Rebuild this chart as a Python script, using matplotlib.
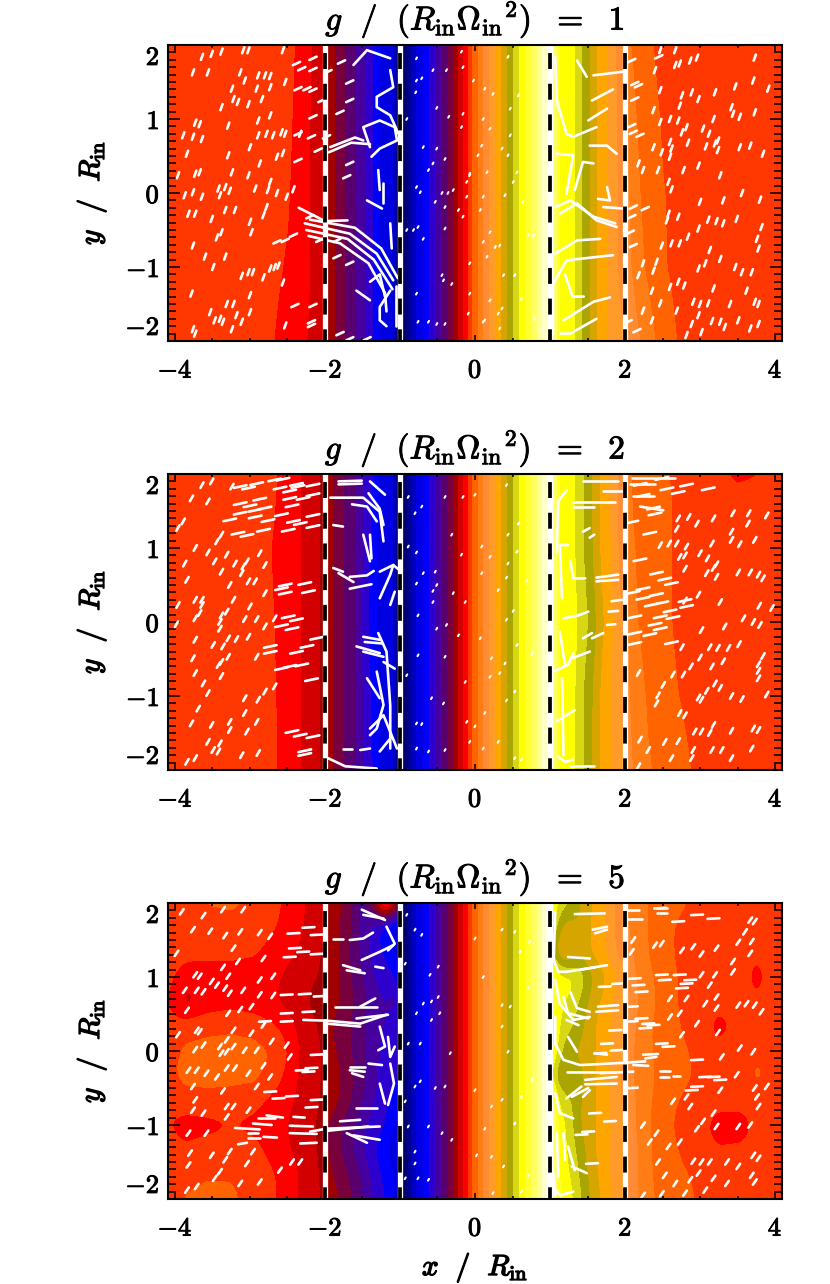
import numpy as np
import matplotlib
matplotlib.use('Agg')
import matplotlib.pyplot as plt
import matplotlib.patheffects as pe
from matplotlib.colors import ListedColormap
from matplotlib.collections import LineCollection
from matplotlib.ticker import MultipleLocator

plt.rcParams['mathtext.fontset'] = 'cm'
plt.rcParams['lines.scale_dashes'] = False

g_values = [1, 2, 5]

band_colors = [(0,0,110),(0,0,150),(0,0,190),(0,0,225),(0,0,255),(45,0,205),(70,0,160),(90,0,110),(120,0,60),
               (160,0,0),(210,0,0),(255,0,0),(255,55,0),(255,100,0),(255,125,20),(255,140,50),(255,155,40),
               (255,165,0),(215,165,0),(170,165,0),(215,215,20),(255,255,0),(255,255,50),(255,255,100),
               (255,255,150),(255,255,200),(255,255,240)]

# inner channel, common to the three panels: x where each band starts
mid_x = [-1.0,-0.9,-0.84,-0.78,-0.689,-0.6,-0.533,-0.444,-0.356,-0.289,-0.222,-0.147,-0.089,-0.036,0.044,0.111,
         0.191,0.267,0.347,0.436,0.511,0.6,0.667,0.756,0.83,0.9,0.96,1.0]
mid_f = [0,1,2,3,4,5,6,7,8,9,10,11,12,13,14,15,16,17,18,19,20,21,22,23,24,25,26,26.99]

# ---- field tables (level value at column x, row y)
p1_left_x = [-4.09,-2.75,-2.5,-2.2,-2,-1.87,-1.74,-1.6,-1.47,-1.37,-1.28,-1.1,-1.03,-1.0]
p1_left_y = [2,1,0,-1,-2]
p1_left_f = [
 [12.5,12.5,12.4,11.1,10,9,8,7,6,5,4,3,1.5,0.5],
 [12.5,12.5,12.25,11,10,9,8,7,6,5,4,3,1.5,0.5],
 [12.5,12.4,12.1,11,10,9,8,7,6,5,4,3,1.5,0.5],
 [12.5,12.3,11.9,11,10,9,8,7,6,5,4,3,1.5,0.5],
 [12.5,12.15,11.6,10.9,10,9,8,7,6,5,4,3,1.5,0.5]]
p1_right_x = [1,1.05,1.12,1.33,1.42,1.53,1.62,1.76,1.9,2.05,2.2,2.5,2.8,4.09]
p1_right_y = [2,1,0,-1,-2]
p1_right_f = [
 [26,24,22,21,20,19,18,17,15.8,14.1,13.5,12.65,12.5,12.5],
 [26,24,22,21,20,19,18,17,15.9,14.6,13.7,12.9,12.5,12.5],
 [26,24,22,21,20,19,18,17,16,15,14,13.05,12.6,12.5],
 [26,24,22,21,20,19,18,17,16,15.2,14.2,13.1,12.6,12.5],
 [26,24,22,21,20,19,18,17,16.3,15.8,15,13.5,12.7,12.5]]
p2_left_x = [-4.09,-3,-2.72,-2.64,-2.33,-2.07,-1.9,-1.75,-1.6,-1.48,-1.37,-1.28,-1.1,-1.03,-1]
p2_left_y = [2,1,0,-1,-2]
p2_left_f = [
 [12.5,12.5,12.3,12,11,10,9,8,7,6,5,4,3,1.5,.5],
 [12.5,12.5,12,11.8,11,10,9,8,7,5.8,4.7,3.8,3,1.5,.5],
 [12.5,12.5,12.1,11.9,11,10,9,8,7,5.5,4.5,3.7,3,1.5,.5],
 [12.5,12.5,12.2,11.95,11,10,9,8,7,5.8,4.8,3.8,3,1.5,.5],
 [12.5,12.5,12.3,12,11,10,9,8,7,6,5,4,3,1.5,.5]]
p2_right_x = [1,1.05,1.12,1.33,1.44,1.56,1.66,1.8,1.95,2.1,2.3,2.65,2.9,3.3,3.5,3.75,4.09]
p2_right_y = [2,1.75,1,0,-1,-2]
p2_right_f = [
 [26,24,22,21,20,19,18,17,15.5,13.8,13.4,12.9,12.6,12.3,11.5,11.9,12.5],
 [26,24,22,21,20,19,18,17,15.5,13.9,13.5,12.95,12.6,12.5,12.5,12.5,12.5],
 [26,24,22,21,20,19,18,17,15.6,14.1,13.5,12.95,12.6,12.5,12.5,12.5,12.5],
 [26,24,22,21.2,20.5,19.5,18.4,17.3,16,14.2,13.6,12.95,12.6,12.5,12.5,12.5,12.5],
 [26,24,22,21,20,19,18,17,16,14.6,13.9,13.1,12.7,12.5,12.5,12.5,12.5],
 [26,24,22,21,20,19,18,17,16.2,15,14.1,13.5,12.95,12.6,12.5,12.5,12.5]]
p3_left_x = [-4.09,-3.85,-3.55,-3.25,-2.95,-2.65,-2.35,-2.1,-1.9,-1.7,-1.5,-1.35,-1.2,-1.08,-1.0]
p3_left_y = [2,1.67,1.33,1,.67,.33,0,-.33,-.67,-1,-1.33,-1.67,-2]
p3_left_f = [
 [12.5,12.6,13.1,13.2,12.8,12.2,11.3,10.4,9.6,8.5,6.5,9,13.3,11,8],
 [12.5,12.5,12.5,12.6,12.5,12,11.2,10.3,9.6,8.3,6.8,5.5,4,3,3],
 [12.5,12.3,12.3,12.2,12.1,11.6,10.9,10.1,9.6,8.2,6.5,5.6,4.8,4,3],
 [12.2,11.5,11.4,11.6,11.5,11.1,10.4,10,9.5,8.3,7,6,5.5,5,4],
 [12,10.5,11.3,11.5,11.3,11,10.3,9.6,9.4,8.5,7.3,6.3,6,6.5,5],
 [12.3,12.6,12.8,12.9,12.7,12,10.8,10,8.9,8.1,7.2,6.5,6,5.3,5],
 [12.6,13.2,13.3,13.3,13.3,13,11,10.2,9.2,8.3,7.1,6.3,5.5,5,5],
 [12.8,13.3,13.3,13.3,13.3,12.4,10.9,10.1,9.5,8.5,7.3,6.3,5.5,5.1,5],
 [12.3,12.6,12.7,12.6,12.3,11.6,10.8,10.1,9.5,8.3,7,6,5.2,4.8,4.5],
 [12,11.5,11.6,11.9,11.7,11.3,10.6,9.9,8.5,7.5,6.3,5.5,5,4,3.5],
 [12.4,12.2,12.5,12.6,12.3,11.5,10.7,10,8.5,7.5,6,5,4.3,3.2,2.5],
 [12.5,12.7,12.9,12.9,12.6,12,11,10.1,9,8,6.8,5.6,4.6,4,3],
 [12.5,13.1,13.3,13.2,12.6,12,10.9,10.1,9.4,8.4,7,5.9,5,4,3]]
p3_right_x = [1.0,1.1,1.2,1.3,1.4,1.5,1.6,1.75,1.9,2.1,2.3,2.55,2.85,3.0,3.25,3.55,3.75,4.09]
p3_right_y = p3_left_y
p3_right_f = [
 [23,21,20.3,20,19,18.3,17.7,16.9,15.6,14.6,14,13.4,13,12.6,12.5,12.5,12.4,12.5],
 [22,19.5,18.5,18.5,18.8,18.3,17.6,16.9,15.6,14.8,14,13.2,12.6,12.5,12.5,12.5,12.4,12.5],
 [20,18.5,17.5,18,18.6,18.2,17.6,16.9,15.8,15,14,13.2,12.6,12.5,12.5,12.3,12.2,12.5],
 [24,21.6,21.5,21.3,20.8,19.5,19,18,17,15.2,14.3,13.3,12.7,12.6,12.5,12.3,11.7,12.5],
 [24,21.4,21,20.6,19.8,19,18.3,17.5,16.5,15.3,14.5,13.3,12.7,12.5,12.4,12.4,12.2,12.5],
 [24,21.2,20.5,20,19.3,18.6,18,17.3,16.5,15.2,14.2,13.3,12.8,12.4,11.6,12.3,12.5,12.5],
 [23,20.8,19.5,19,18.8,18.5,18,17.4,16.6,15,14.2,13.4,13,12.6,12.4,12.5,12.8,12.5],
 [21,19.3,19,19.2,19.3,18.7,18,17.2,16.2,15,14.2,13.7,13.1,12.8,12.5,12.5,13.2,12.7],
 [25,21,20.3,20,19,18.6,18,17.2,16.2,15.2,14.2,13.3,12.7,12.5,12.4,12.4,12.5,12.5],
 [26,22,21,20,19,18.5,18,17.3,16.5,15.2,14.1,13.2,12.5,12.3,11.5,11.5,12.2,12.5],
 [26,22,21.2,20.3,19.5,18.7,18,17.2,16.5,15.4,14.2,13.3,12.7,12.4,12.1,12.2,12.4,12.5],
 [26,22,21.3,20.8,19.8,19,18.2,17.2,16.5,15.4,14.2,13.4,13,12.7,12.5,12.5,12.5,12.5],
 [26,22.5,21.8,21,20.2,19.2,18.5,17.4,16.5,15.4,14.3,13.5,13.2,12.8,12.5,12.5,12.5,12.5]]

# ---- white tracer marks (x, y)
p1_specks = [(-.78,1.82),(-.56,1.66),(-.38,1.66),(-.18,1.91),(-.78,1.52),(-.71,1.55),(-.79,1.36),(-.91,1),(-.51,1.15),(-.35,1.03),(-.16,1.07),(.11,1),(-.18,.89),(-.69,.62),(-.51,.6),(-.4,.46),(-.56,.4),(-.62,.31),(-.07,.24),(-.11,.15),(-.78,.08),(-.73,.01),(-.44,0),(-.36,0),(-.29,.04),(-.11,-.05),(.11,-.05),(-.53,-.12),(-.4,-.19),(-.22,-.23),(-.16,-.32),(-.91,-.5),(-.82,-.5),(-.76,-.46),(-.4,-.48),(-.69,-.62),(.11,-.66),(.16,-.86),(-.44,-1.11),(-.42,-1.18),(-.31,-1.23),(-.07,-.95),(-.78,-1.36),(-.51,-1.77),(-.62,-1.74),(-.76,-1.74),(-.4,-1.77),(-.09,-1.63),(.13,-1.72),(.2,-1.45),
 (-.16,1.7),(-.02,1.52),(.13,1.41),(.24,1.34),(.44,1.84),(.58,1.32),(.47,1.14),(.2,.87),(.47,.78),(.09,.64),(.36,.6),(.44,.51),(.04,.51),(.56,.28),(-.07,.26),(.16,.28),(.51,.15),(.4,-.03),(.64,-.12),(.07,-.23),(.2,-.53),(.71,-.57),(.78,-.57),(.27,-.73),(.33,-.71),(.38,-1.11),(.53,-1.11),(-.07,-1.36),(.36,-1.56),(.31,-1.63),(.11,-1.74),(.62,-1.43),(.8,-1.7),(.87,-1.86),(.33,-1.83)]
p1_steep = [(-3.51,1.88),(-3.38,1.91),(-3.09,1.93),(-3.02,1.93),(-2.56,1.93),(-3.64,1.84),(-3.76,1.63),(-3.56,1.63),(-3.13,1.63),(-2.89,1.59),(-2.8,1.59),(-2.73,1.58),(-3.07,1.52),(-3.24,1.41),(-2.91,1.41),(-2.73,1.43),(-2.53,1.5),(-3.22,1.27),(-3.16,1.23),(-3.02,1.2),(-2.84,1.27),(-2.73,1.05),(-2.89,.98),(-3.38,1.16),(-3.67,.93),(-3.73,.95),(-3.89,.78),(-3.76,.76),(-3.64,.73),(-3.29,.91),(-2.89,.78),(-2.78,.8),(-2.69,.78),(-2.58,.82),(-2.53,.8),(-2.33,.8),(-3.0,.62),(-3.84,.53),(-3.29,.51),(-2.87,.4),(-2.64,.49),(-2.56,.54),(-3.67,.28),(-3.73,.26),(-3.96,.24),(-3.02,.24),(-3.24,.28),(-2.73,.15),(-2.93,.06),(-3.42,.06),(-3.33,.08),(-3.27,.03),(-3.4,-.03),(-3.76,.01),(-3.87,-.03),(-3.64,-.05),(-2.76,.04),(-2.64,0),(-2.51,-.05),(-2.42,.05),(-2.78,-.19),(-3.82,-.28),(-3.73,-.28),(-3.51,-.35),(-3.33,-.23),(-3.2,-.23),(-3,-.39),(-2.82,-.3),(-3.38,-.53),(-3.44,-.6),(-2.98,-.53),(-3.76,-.71),(-3.6,-.86),(-3.33,-.86),(-3.49,-1.0),(-3.11,-1.12),(-3.02,-1.07),(-2.96,-1.07),(-2.82,-1.14),(-2.73,-1.02),(-2.67,-1),(-2.62,-.98),(-2.56,-1.21),(-3.78,-1.36),(-3,-1.38),(-3.22,-1.5),(-3.31,-1.5),(-3.53,-1.61),(-3.4,-1.7),(-3.47,-1.72),(-3.36,-1.74),(-3.18,-1.65),(-3,-1.61),(-3.76,-1.84),(-3.73,-1.9),(-3.24,-1.84),(-3.11,-1.74),(-2.53,-1.79),
 (2.47,1.93),(2.67,1.93),(2.87,1.79),(2.96,1.83),(2.67,1.73),(2.73,1.75),(3.73,1.83),(3.71,1.52),(3.47,1.44),(3.91,1.41),(3.2,1.36),(2.89,1.36),(2.76,1.32),(2.47,1.39),(2.4,1.66),(2.73,1.18),(2.98,1.27),(2.38,1.12),(3.42,1.16),(3.44,1.07),(3.53,1.03),(3.73,1.09),(3.18,1),(2.6,1),(2.71,.98),(2.47,.96),(2.82,.89),(2.76,.82),(3.04,.87),(3.12,.8),(3.24,.71),(3.2,.67),(2.6,.69),(2.84,.68),(3.08,.63),(3.24,.58),(3.53,.62),(3.67,.64),(3.84,.53),(2.38,.62),(2.62,.6),(2.49,.55),(2.6,.49),(2.98,.37),(3.27,.24),(2.78,.31),(2.44,.31),(2.24,.31),(2.18,.4),(2.58,.15),(2.62,.05),(3.56,0),(3.31,-.1),(3.8,-.09),(3,-.12),(2.58,-.28),(2.71,-.32),(2.56,-.37),(3.11,-.36),(3.22,-.38),(3.31,-.41),(3.49,-.35),(2.98,-.48),(2.84,-.59),(3.82,-.46),(3.76,-.62),(3.78,-.75),(2.73,-.68),(2.62,-.68),(2.49,-.71),(3.13,-.77),(3.27,-.89),(3.07,-.95),(2.98,-1.02),(3.47,-1),(3.56,-1.07),(3.69,-1.07),(2.38,-1.05),(2.24,-.95),(2.42,-.93),(2.18,-1.11),(2.36,-1.32),(2.6,-1.27),(2.71,-1.2),(2.79,-1.25),(3.18,-1.29),(3.62,-1.32),(3.73,-1.47),(3.78,-1.5),(2.91,-1.47),(3,-1.5),(3.11,-1.49),(3.4,-1.5),(2.69,-1.59),(2.47,-1.49),(2.24,-1.59),(2.36,-1.72),(2.98,-1.65),(2.89,-1.77),(3.16,-1.73),(3.27,-1.74),(3.33,-1.81),(3.51,-1.72),(3.67,-1.83),(3.78,-1.77),(3.02,-1.88),(2.82,-1.92)]
p1_flat = [(-2.38,1.75),(-2.16,1.82),(-2.31,1.68),(-2.16,1.67),(-1.96,1.64),(-1.78,1.77),(-2.36,1.41),(-2.24,1.41),(-2.16,1.39),(-2.04,1.25),(-1.8,1.09),(-1.67,1.25),(-1.67,1.5),(-2.16,1.03),(-2.36,.8),(-2.18,.76),(-1.98,.76),(-2.36,.44),(-2.09,.58),(-1.71,.22),(-1.67,.4),(-2.2,-.32),(-2.64,-.66),(-2.53,-.64),(-2.42,-.57),(-1.84,-.86),(-1.67,-.95),(-1.84,-.64),(-2.07,-.64),(-2.16,-1.52),(-2.4,-1.52),(-2.18,-1.79),(-2.18,-1.74),(-1.8,-1.9),(-1.44,-1.97),(-1.67,-1.97),
 (2.09,1.79),(2.45,1.84),(2.13,1.48),(2.18,1.45),(2.13,1.27),(2.09,.91),(2.11,.82),(2.2,.78),(2.27,-.21),(2.11,-.19),(2.09,-.32),(2.07,-.53),(2.11,-.71),(2.04,-1.74),(2.16,-1.86)]
p1_streams = [
 [(-2.27,-.41),(-1.67,-.55),(-1.31,-.82),(-1.09,-1.18)],[(-2.25,-.5),(-1.7,-.62),(-1.35,-.9),(-1.1,-1.3)],[(-2.2,-.36),(-1.6,-.47),(-1.25,-.75),(-1.03,-1.15)],[(-2.22,-.58),(-1.8,-.68),(-1.42,-.95),(-1.2,-1.35),(-1.18,-1.6)],[(-2.35,-.2),(-2.0,-.38),(-1.7,-.37)],
 [(-1.62,1.73),(-1.44,1.93),(-1.13,1.82)],[(-1.13,1.66),(-1.09,1.43),(-1.31,1.3),(-1.31,1.16),(-1.13,1.05),(-1.02,.8)],[(-1.4,.62),(-1.49,.89),(-1.27,.98),(-1.07,.89),(-1.04,.71),(-1.27,.6),(-1.38,.49)],[(-1.93,.62),(-1.6,.75),(-1.49,.71)],[(-1.95,.55),(-1.65,.68),(-1.4,.66)],
 [(-1.29,.31),(-1.27,.04)],[(-1.22,.13),(-1.22,-.14)],[(-1.44,-.1),(-1.24,-.21)],[(-1.13,-.41),(-1.11,-.75)],[(-1.58,-1.32),(-1.4,-1.45)],[(-1.13,-1.32),(-1.27,-1.54),(-1.27,-1.72),(-1.18,-1.8)],[(-1.4,-1.2),(-1.27,-1.1),(-1.2,-1.4)],[(-1.05,-1.25),(-1.05,-1.8)],
 [(1.07,1.84),(1.09,1.25),(1.22,.8),(1.31,.76)],[(1.58,1.59),(1.98,1.64)],[(1.31,.76),(1.62,.89)],[(1.56,1.25),(1.84,1.4)],[(1.51,.98),(1.76,1.14)],[(1.53,.64),(1.76,.64),(1.89,.53)],[(1.09,.53),(1.31,.51),(1.22,-.01)],[(1.33,.04),(1.44,.42),(1.58,.4)],
 [(1.07,-.19),(1.27,-.1),(1.58,-.32),(1.87,-.41)],[(1.13,-.28),(1.36,-.14),(1.62,-.37),(1.89,-.46)],[(1.07,-.82),(1.36,-.64),(1.67,-.62)],[(1.04,-1.9),(1.04,-1.23),(1.22,-.91),(1.84,-.84)],[(1.13,-1.9),(1.27,-1.9),(1.62,-1.7)],[(1.18,-1.72),(1.58,-1.47),(1.8,-1.41)],[(1.36,1.79),(1.49,1.57)],[(1.71,-.19),(1.98,-.21)],[(1.64,-.08),(1.8,-.1),(1.76,.08)],[(1.2,-1.1),(1.3,-1.4),(1.45,-1.4)]]

p2_specks = [(-.89,1.69),(-.4,1.69),(-.71,1.56),(-.16,1.69),(-.8,1.47),(-.31,1.18),(-.89,1.02),(-.78,.94),(-.18,.91),(-.69,.66),(-.53,.68),(-.51,.5),(-.78,.52),(-.56,.42),(-.29,.39),(-.13,.27),(-.56,.27),(-.51,-.09),(-.38,-.04),(-.22,-.18),(-.76,.09),(-.76,-.45),(-.4,-.47),(-.91,-.72),(-.13,-.81),(-.42,-1.1),(-.58,-1.03),(-.78,-1.37),(-.71,-1.38),(-.11,-1.35),(-.78,-1.71),(-.62,-1.75),(-.4,-1.73),(-.07,-1.62),
 (0,1.72),(.42,1.85),(.58,1.33),(.44,1.18),(.09,1.02),(.56,.95),(.2,.88),(.44,.79),(.09,.66),(.42,.6),(.69,.56),(.31,.43),(.07,-.22),(.51,.15),(.42,.03),(.56,-.31),(.22,-.49),(.4,-.56),(.76,-.43),(.2,-.74),(.33,-.69),(.53,-.94),(.42,-1.06),(.13,-1.23),(0,-1.41),(.31,-1.62),(.11,-1.71),(.53,-1.84),(.62,-1.86)]
p2_steep = [(-3.78,1.67),(-3.56,1.63),(-3.24,1.83),(-3.64,1.85),(-3.51,1.9),(-3.89,1.36),(-3.96,1.27),(-3.38,1.18),(-3.44,1.09),(-3.73,1),(-3.56,.94),(-3.31,.91),(-2.87,.93),(-3.04,.82),(-3.2,.79),(-3.47,.82),(-3.87,.79),(-3.09,.75),(-2.8,.77),(-3.11,.66),(-3.38,.68),(-3.84,.57),(-3.02,.55),(-2.93,.55),(-3.27,.5),(-2.8,.39),(-3.73,.3),(-3.64,.3),(-3.22,.3),(-3.96,.23),(-3,.21),(-3.64,.23),(-3.67,.12),(-3.31,.14),(-3.38,.09),(-3.4,0),(-3.73,.05),(-3.07,.04),(-2.91,.04),(-2.67,.05),(-3.98,-.03),(-2.8,-.06),(-3.4,-.09),(-3.73,-.24),(-3.29,-.22),(-3.18,-.23),(-3.02,-.2),(-3.49,-.31),(-3.36,-.33),(-2.91,-.47),(-3.29,-.47),(-3.38,-.54),(-3.76,-.49),(-3.42,-.58),(-3.73,-.69),(-3.38,-.73),(-3.62,-.83),(-2.8,-.94),(-2.67,-.87),(-3.56,-.96),(-3.07,-1.03),(-2.89,-1.05),(-3.69,-1.17),(-3.07,-1.23),(-2.91,-1.35),(-3.78,-1.37),(-3.51,-1.39),(-3.27,-1.35),(-3.04,-1.48),(-3.56,-1.62),(-3.49,-1.73),(-3.42,-1.75),(-3.4,-1.64),(-3.27,-1.46),(-2.89,-1.77),(-3.11,-1.8),(-3.73,-1.84),(-3.84,-1.89),
 (2.71,1.4),(2.85,1.42),(2.96,1.33),(3.18,1.4),(3.44,1.47),(3.65,1.47),(3.89,1.44),(3.64,1.33),(2.69,1.26),(3.42,1.22),(3.42,1.11),(3.53,1.05),(3.73,1.11),(3.16,1.06),(2.82,1.02),(2.69,1.06),(2.59,1.06),(2.47,1.04),(2.73,.88),(3,.93),(3.1,.86),(3.22,.78),(2.8,.9),(3.18,.73),(3.09,.66),(2.8,.72),(3.51,.67),(3.67,.67),(3.78,.64),(3.84,.59),(3.22,.61),(3.27,.27),(2.98,.37),(2.8,.29),(3.79,.22),(3.96,.19),(3.58,.05),(3.71,0),(3.8,-.04),(3.33,-.06),(3.02,-.11),(3.52,-.3),(3.38,-.35),(3.24,-.35),(3.13,-.34),(2.76,-.34),(3.78,-.57),(3.84,-.46),(3.31,-.53),(3.16,-.6),(3,-.48),(2.88,-.6),(2.78,-.71),(3.78,-.66),(3.78,-.76),(2.64,-.71),(3.2,-.83),(3.27,-.89),(2.98,-1.02),(3.02,-1.05),(3.09,-.93),(3.42,-1),(3.56,-1.04),(3.89,-.98),(2.42,-1.1),(2.51,-.85),(2.18,-.69),(2.44,-.99),(2.73,-1.23),(2.8,-1.26),(3.18,-1.39),(2.93,-1.48),(3.02,-1.48),(3.13,-1.5),(3.42,-1.47),(3.71,-1.44),(3.78,-1.46),(2.2,-1.59),(2.71,-1.61),(2.31,-1.73),(2.53,-1.62),(2.91,-1.73),(3.16,-1.73),(3.29,-1.73),(3.42,-1.84),(3.69,-1.71),(2.62,-1.84),(2.89,-1.84),(2.18,-1.95)]
p2_flat = [(-2.67,1.92),(-2.56,1.93),(-2.38,1.86),(-2.6,1.81),(-2.47,1.77),(-2.36,1.83),(-2.16,1.85),(-3.13,1.83),(-2.91,1.87),(-3.02,1.81),(-2.87,1.66),(-3.13,1.6),(-3,1.57),(-2.8,1.54),(-2.93,1.51),(-3.13,1.47),(-2.93,1.42),(-3.27,1.38),(-2.76,1.37),(-2.58,1.45),(-2.42,1.36),(-2.49,1.24),(-2.82,1.24),(-3.16,1.2),(-3.04,1.17),(-2.44,1.57),(-2.29,1.67),(-2.16,1.72),(-2.47,1.67),(-2.16,1.44),(-2.33,1.33),(-2.16,1.29),(-2.27,.52),(-2.53,.5),(-2.58,.45),(-2.53,.39),(-2.22,.41),(-2.49,.07),(-2.38,.03),(-2.58,-.05),(-2.44,-.09),(-2.11,-.22),(-2.73,-.33),(-2.73,-.41),(-2.24,-.33),(-2.38,-.41),(-2.58,-.63),(-2.47,-.6),(-2.31,-.58),(-2.18,-.78),(-2.44,-1.48),(-2.33,-1.53),(-2.16,-1.55),(-2.27,-1.74),(-2.27,-1.79),
 (2.49,1.94),(2.2,1.86),(2.82,1.85),(2.56,1.8),(2.71,1.75),(3.11,1.8),(2.24,1.71),(2.38,1.54),(2.4,1.46),(2.09,1.35),(2.33,1.2),(2.2,.84),(2.42,.66),(2.53,.58),(2.62,.52),(2.11,.4),(2.24,.45),(2.24,.32),(2.42,.37),(2.49,.26),(2.35,.23),(2.8,.29),(2.82,.21),(2.47,.07),(2.6,.15),(2.64,.06),(2.13,.07),(2.4,-.03),(2.47,-.09),(2.33,-.17),(2.13,-.15),(2.62,-.28),(2.13,-.29)]
p2_streams = [
 [(-1.82,1.9),(-1.51,1.91)],[(-1.82,1.86),(-1.51,1.87)],[(-1.93,1.68),(-1.49,1.68),(-1.27,1.49),(-1.22,1.09)],[(-1.42,1.74),(-1.27,1.53),(-1.22,1.31)],[(-1.4,1.9),(-1.2,1.72)],[(-1.64,1.59),(-1.44,1.56),(-1.31,1.36)],[(-1.49,1.18),(-1.4,.82)],[(-1.4,1.18),(-1.38,.86)],
 [(-1.89,1.31),(-1.76,1.29)],[(-1.82,.66),(-1.62,.54)],[(-1.89,.73),(-1.76,.68)],[(-1.67,.61),(-1.44,.63),(-1.35,.69)],[(-1.67,.45),(-1.38,.51)],[(-1.27,.32),(-1.13,.64),(-1.09,.77)],[(-1.27,.68),(-1.09,.77),(-.98,.68)],[(-1.13,.23),(-1.07,.41)],
 [(-1.29,-.15),(-1.18,-.4),(-1.13,-1.13),(-1.13,-1.71)],[(-1.49,-.2),(-1.27,-.24)],[(-1.47,-.27),(-1.24,-.29)],[(-1.58,-.33),(-1.27,-.42)],[(-1.49,-.4),(-1.22,-.47)],[(-1.31,-.67),(-1.22,-1.12),(-1.31,-1.44),(-1.4,-1.53)],[(-1.44,-.76),(-1.27,-1.03)],[(-1.22,-.54),(-1.07,-.63)],[(-1.4,-1.44),(-1.22,-1.26),(-1.04,-1.71)],[(-1.27,-1.75),(-1.11,-1.55)],[(-1.53,-1.73),(-1.4,-1.71)],[(-1.76,-1.71),(-1.64,-1.71)],[(-1.96,-1.84),(-1.73,-1.95),(-1.31,-1.98)],
 [(1.44,1.91),(1.91,1.91)],[(1.71,1.77),(1.96,1.77)],[(1.31,1.62),(1.87,1.62)],[(1.31,1.56),(1.58,1.56)],[(2.09,1.94),(2.67,1.94)],[(2.07,1.86),(2.4,1.86)],[(2.11,1.7),(2.38,1.7)],[(2.2,1.56),(2.51,1.51)],[(1.22,1.78),(1.11,1.63),(1.09,.95)],[(1.24,1.04),(1.13,1.04),(1.16,.32)],[(1.27,.82),(1.31,.59),(1.47,.59)],[(1.18,.05),(1.38,.09),(1.51,.14)],[(1.44,-.22),(1.56,-.15)],[(1.56,-.22),(1.71,-.15)],[(1.04,-.67),(1.24,-.58),(1.31,-.42)],[(1.13,-.13),(1.2,-.58)],[(1.16,-.76),(1.18,-1.8)],[(1.09,-1.34),(1.33,-1.19)],[(1.29,-.49),(1.53,-.4)],[(1.62,.55),(1.91,.57)],[(1.62,.6),(1.91,.64)],[(1.11,-1.82),(1.2,-1.89),(1.31,-1.86)],[(1.27,-1.95),(1.58,-1.95)],[(1.44,1.22),(1.53,1.27)],[(1.53,1.14),(1.59,1.18)],[(1.78,.14),(1.91,.15)],[(1.82,.28),(1.96,.3)],[(1.76,-.04),(1.87,-.03)]]

p3_specks = [(-.91,1.84),(-.8,1.64),(-.71,1.57),(-.93,1.18),(-.49,1.14),(-.6,1.03),(-.49,.73),(-.69,.64),(-.58,.67),(-.78,.51),(-.58,.42),(-.47,.51),(-.89,.1),(-.73,.1),(-.33,-.03),(-.8,-.48),(-.73,-.41),(-.53,-.5),(-.4,-.48),(-.93,-.68),(-.62,-1.02),(-.89,-1.02),(-.44,-1.11),(-.31,-1.2),(-.8,-1.36),(-.8,-1.52),(-.93,-1.72),(-.62,-1.74),(-.76,-1.72),
 (0,1.52),(.36,1.64),(.53,1.61),(.73,1.48),(.11,1),(.6,1.34),(.71,.85),(.36,.62),(.47,.6),(.36,.33),(.44,-.01),(.76,-.39),(0,-.53),(.36,-.66),(.22,-.75),(.62,-.62),(.53,-.98),(.13,-1.05),(.02,-1.41),(.22,-1.43),(.38,-1.56),(.71,-1.68),(.24,-1.92),(.62,-1.9)]
p3_steep = [(-3.91,1.88),(-3.62,1.83),(-3.36,1.91),(-3.09,1.91),(-3.76,1.64),(-3.53,1.62),(-3.33,1.56),(-3.13,1.61),(-2.87,1.6),(-2.73,1.55),(-3.22,1.39),(-3.98,1.32),(-2.82,1.25),(-3.16,1.21),(-3.36,1.13),(-3.67,1.01),(-3.73,1.03),(-3.29,1.01),(-2.69,1.01),(-2.87,.96),(-3.51,.94),(-3.44,.89),(-3.33,.85),(-3.87,.82),(-3.71,.82),(-3.62,.8),(-3.27,.78),(-3.09,.82),(-2.87,.76),(-2.69,.75),(-3.84,.55),(-2.98,.6),(-3.13,.56),(-3.29,.51),(-2.82,.35),(-3.71,.28),(-3.67,.26),(-3.96,.22),(-3.22,.28),(-2.98,.24),(-3.73,.02),(-3.62,.08),(-3.4,.06),(-3.31,.15),(-3.22,.06),(-3.07,.01),(-2.91,.01),(-2.71,.13),(-2.51,.08),(-3.38,-.03),(-3.31,-.01),(-3.71,-.26),(-3.82,-.26),(-3.58,-.3),(-3.31,-.23),(-3.2,-.23),(-3.02,-.3),(-2.82,-.2),(-2.47,-.08),(-2.91,-.48),(-3.44,-.35),(-3.36,-.54),(-3.76,-.48),(-2.73,-.35),(-3.73,-.66),(-3.22,-.75),(-3.31,-.75),(-3.02,-.8),(-3.76,-.8),(-3.62,-.84),(-3.31,-.89),(-3.82,-1.11),(-3.58,-1.11),(-3.8,-1.38),(-3.51,-1.41),(-3.27,-1.36),(-2.96,-1.36),(-3.33,-1.47),(-3.82,-1.54),(-3.04,-1.52),(-2.6,-1.61),(-3.4,-1.63),(-3.47,-1.72),(-3.13,-1.79),(-2.87,-1.77),(-2.44,-1.5),(-2.33,-1.5),(-3.84,-1.88),(-3.71,-1.83),
 (3.6,1.61),(3.67,1.77),(3.73,1.75),(3.69,1.48),(3.51,1.47),(3.22,1.39),(3.02,1.31),(2.76,1.36),(2.91,1.41),(2.49,1.45),(2.4,1.43),(2.11,1.5),(2.09,1.34),(3.67,1.32),(3.44,1.21),(3.44,1.07),(3.2,1.03),(3.02,1.03),(3.13,.89),(3.22,.73),(3.07,.64),(3.22,.58),(3.51,.62),(3.62,.64),(3.82,.53),(3.73,.62),(2.6,.46),(2.6,.71),(2.82,.71),(2.73,.51),(2.96,.37),(2.76,.22),(3.24,.25),(3.53,.04),(3.71,-.01),(3.29,-.08),(3.49,-.32),(3.89,-.48),(3.73,-.5),(3.76,-.62),(3.78,-.75),(3.27,-.53),(2.64,-.68),(2.82,-.62),(2.87,-.75),(3.04,-.95),(3.18,-.84),(2.96,-1.05),(3.22,-1.02),(3.51,-1.02),(3.67,-1),(2.73,-1.23),(2.58,-1.29),(2.42,-1.11),(2.24,-1),(2.33,-1.23),(2.44,-1.5),(2.91,-1.49),(3.02,-1.5),(3.13,-1.5),(3.36,-1.5),(3.71,-1.41),(3.78,-1.45),(3.51,-1.56),(3.69,-1.68),(3.73,-1.77),(2.98,-1.65),(2.87,-1.74),(3.18,-1.72),(3.36,-1.79),(2.67,-1.79),(2.53,-1.68),(2.24,-1.95),(2.49,-1.93),(2.8,-1.92),(3.07,-1.88)]
p3_flat = [(-2.42,1.59),(-2.22,1.67),(-2.11,1.57),(-2.4,1.39),(-2.29,1.34),(-2.11,1.31),(-2.47,1.27),(-2.51,.76),(-2.27,.77),(-2.07,.74),(-2.51,.51),(-2.51,.4),(-2.22,.53),(-2.8,.4),(-2.11,-.05),(-2.22,-.28),(-2.18,-.23),(-2.31,-.26),(-2.73,-.55),(-2.62,-.64),(-2.44,-.61),(-2.11,-.66),(-2.18,-.76),
 (2.47,1.93),(2.71,1.75),(2.96,1.84),(3.18,1.79),(2.49,1.03),(2.53,.96),(2.73,1.03),(2.13,.98),(2.18,.89),(2.22,.8),(2.76,.85),(2.82,.91),(2.87,.96),(2.09,.6),(2.09,.4),(2.22,.44),(2.31,.37),(2.38,.35),(2.27,.31),(2.58,.06),(2.49,.1),(2.96,-.12),(3.07,-.35),(3.18,-.35),(3.27,-.39),(2.96,-.48),(2.89,-.53),(2.09,-.5),(1.87,.28),(1.73,.87),(1.91,.91),(1.89,.01),(1.76,.1),(1.67,-.03),(1.6,-.84),(1.8,-.95),(1.56,-1.52),(1.42,-1.13),(1.51,-1.09)]
p3_streams = [
 [(-2.89,-.91),(-2.67,-.91)],[(-2.78,-.87),(-2.56,-.9)],[(-2.42,-.89),(-2.27,-.9)],[(-2.96,-.98),(-2.71,-1)],[(-3.2,-1.04),(-2.87,-1.06)],[(-3.02,-1.11),(-2.89,-1.11)],[(-3.02,-1.18),(-2.87,-1.18)],[(-2.82,-1.16),(-2.64,-1.17)],[(-2.47,-1.01),(-2.16,-1.02)],[(-2.47,-1.11),(-2.11,-1.12)],[(-2.33,-1.25),(-2.11,-1.24)],[(-3.16,-1.26),(-3.04,-1.24)],[(-2.2,-1.09),(-1.98,-1.05),(-1.27,-1.02)],[(-1.98,-1.08),(-1.42,-1.02)],
 [(-2.29,.42),(-1.98,.41),(-1.53,.37),(-1.18,.49)],[(-1.98,.37),(-1.53,.33)],[(-1.87,.6),(-1.31,.6)],[(-1.53,.6),(-1.33,.71)],[(-1.58,.44),(-1.16,.49)],[(-1.67,1.5),(-1.49,1.52),(-1.36,1.6)],[(-1.51,1.23),(-1.27,1.34),(-1.09,1.43)],[(-1.51,1.91),(-1.2,1.77)],[(-1.49,1.84),(-1.22,1.79)],[(-1.18,1.68),(-1.07,1.45),(-1.16,1.36)],[(-1.33,1.14),(-1.22,1.12)],[(-1.76,1.16),(-1.53,1.09)],[(-1.71,1.09),(-1.47,1.05)],[(-1.89,1.51),(-1.76,1.51)],
 [(-1.27,.33),(-1.2,.06),(-1.29,.01)],[(-1.16,.19),(-1.13,-.08),(-1.07,.06)],[(-1.13,-.17),(-1.08,-.44),(-1.16,-.73)],[(-1.27,-.44),(-1.2,-.71)],[(-1.42,-.17),(-1.24,-.19)],[(-1.67,-.21),(-1.47,-.21)],[(-1.67,-.26),(-1.47,-.28)],[(-1.64,-.3),(-1.49,-.35)],[(-1.58,-.77),(-1.31,-.77)],[(-1.8,-.95),(-1.53,-.93)],[(-1.71,-1.11),(-1.44,-1.24)],[(-1.62,-1.14),(-1.27,-1.2)],
 [(1.07,1.88),(1.05,1.23),(1.11,1.07),(1.22,1.07)],[(1.33,1.85),(1.73,1.86)],[(1.57,1.64),(1.76,1.68)],[(1.6,1.59),(1.76,1.64)],[(1.24,1.27),(1.53,1.25)],[(1.22,1.07),(1.76,1.16)],[(1.42,1.1),(1.6,1.13)],[(1.07,.96),(1.13,.64),(1.31,.42),(1.53,.46)],[(1.27,.8),(1.36,.58),(1.53,.53)],[(1.18,.73),(1.24,.51),(1.51,.44)],[(1.22,.42),(1.38,.35)],[(1.07,.46),(1.07,.1),(1.18,-.12),(1.4,-.19),(1.98,-.16),(2.27,-.14)],[(1.24,.19),(1.36,-.01)],[(1.22,-.28),(1.87,-.28)],
 [(1.47,-.39),(1.89,-.35)],[(1.47,-.45),(1.89,-.44)],[(1.67,-.3),(2.11,-.28)],[(1.6,-.03),(1.76,-.05)],[(1.22,-.64),(1.42,-.48)],[(1.29,-.62),(1.51,-.5)],[(1.44,-.62),(1.53,-.53)],[(1.07,-.57),(1.13,-.84),(1.31,-.91)],[(1.09,-1.11),(1.11,-1.7)],[(1.18,-1.11),(1.2,-1.47)],[(1.24,-1.29),(1.33,-1.61)],[(1.04,-1.61),(1.07,-1.95)],[(1.04,-1.83),(1.13,-1.95),(1.31,-1.9)],[(1.29,-1.56),(1.49,-1.65)],[(1.64,.6),(1.91,.62)],[(1.62,.53),(1.91,.55)],[(2.04,1.78),(2.22,1.78)],[(2,1.91),(2.18,1.91)],[(2.42,1.93),(2.56,1.93)],[(2.42,1.86),(2.56,1.86)],[(2.24,-.05),(2.44,-.04)],[(2.27,-.1),(2.42,-.08)],[(2.11,-.19),(2.31,-.2)],[(2.47,-.27),(2.6,-.27)],[(2.47,-.35),(2.58,-.35)],[(2.64,-.34),(2.73,-.34)]]

panels = [
 dict(left=(p1_left_x,p1_left_y,p1_left_f), right=(p1_right_x,p1_right_y,p1_right_f), specks=p1_specks, steep=p1_steep, flat=p1_flat, streams=p1_streams, sx=0, sy=.05, steep_ang=70, flat_ang=25, flat_len=8),
 dict(left=(p2_left_x,p2_left_y,p2_left_f), right=(p2_right_x,p2_right_y,p2_right_f), specks=p2_specks, steep=p2_steep, flat=p2_flat, streams=p2_streams, sx=0, sy=.08, steep_ang=60, flat_ang=12, flat_len=13),
 dict(left=(p3_left_x,p3_left_y,p3_left_f), right=(p3_right_x,p3_right_y,p3_right_f), specks=p3_specks, steep=p3_steep, flat=p3_flat, streams=p3_streams, sx=.035, sy=.11, steep_ang=55, flat_ang=3, flat_len=12),
]

W, H = 830, 1284
AX_L, AX_W, AX_H = 168, 614, 296
AX_TOPS = [45, 474, 903]
XLIM = 4.093

cmap = ListedColormap([tuple(c/255 for c in col) for col in band_colors])
levels = np.arange(len(band_colors)+1)
xf = np.linspace(-XLIM, XLIM, 1640)
yf = np.linspace(-2, 2, 320)


def smooth(a, sigma, axis, step):
    if sigma <= 0:
        return a
    n = int(3*sigma/step)
    k = np.exp(-0.5*(np.arange(-n, n+1)*step/sigma)**2)
    k /= k.sum()
    return np.apply_along_axis(lambda v: np.convolve(np.pad(v, n, mode='edge'), k, mode='valid'), axis, a)


def side_field(table, xs, sx, sy):
    cx, cy, vals = table
    cy = np.array(cy)[::-1]
    vals = np.array(vals, float)[::-1]
    rows = np.array([np.interp(xs, cx, r) for r in vals])
    out = np.array([np.interp(yf, cy, rows[:, j]) for j in range(rows.shape[1])]).T
    out = smooth(out, sy, 0, yf[1]-yf[0])
    out = smooth(out, sx, 1, xs[1]-xs[0])
    return out


def build_field(p):
    mL = xf < -1
    mR = xf > 1
    mM = ~(mL | mR)
    F = np.zeros((yf.size, xf.size))
    F[:, mM] = np.interp(xf[mM], mid_x, mid_f)
    F[:, mL] = side_field(p['left'], xf[mL], p['sx'], p['sy'])
    F[:, mR] = side_field(p['right'], xf[mR], p['sx'], p['sy'])
    return np.clip(F, 0.01, len(band_colors)-0.01)


def dashes(ax, pts, ang, length, lw):
    a = np.radians(ang)
    dx = 0.5*length*np.cos(a)/75
    dy = 0.5*length*np.sin(a)/74
    segs = [[(x-dx, y-dy), (x+dx, y+dy)] for x, y in pts]
    ax.add_collection(LineCollection(segs, colors='white', linewidths=lw, capstyle='round', zorder=4))


fig = plt.figure(figsize=(W/100, H/100), dpi=100, facecolor='white')
stroke = [pe.withStroke(linewidth=0.7, foreground='black')]

for i, (p, g, top) in enumerate(zip(panels, g_values, AX_TOPS)):
    ax = fig.add_axes([AX_L/W, 1-(top+AX_H)/H, AX_W/W, AX_H/H])
    ax.contourf(xf, yf, build_field(p), levels=levels, cmap=cmap, antialiased=False, zorder=1)
    ax.set_xlim(-XLIM, XLIM)
    ax.set_ylim(-2, 2)

    dashes(ax, p['specks'], 60, 2.0, 1.5)
    dashes(ax, p['steep'], p['steep_ang'], 6.5, 1.9)
    dashes(ax, p['flat'], p['flat_ang'], p['flat_len'], 1.9)
    ax.add_collection(LineCollection(p['streams'], colors='white', linewidths=1.9, capstyle='round',
                                     joinstyle='round', zorder=4))

    for xv in (-2, -1, 1, 2):
        ax.plot([xv, xv], [2, -2], color='white', lw=3.8, zorder=3, solid_capstyle='butt')
        ax.plot([xv, xv], [2, -2], color='black', lw=2.7, zorder=5, solid_capstyle='butt',
                linestyle=(16.3, (11.5, 10.6)))

    ax.set_xticks([-4, -2, 0, 2, 4])
    ax.set_xticklabels([r'$-4$', r'$-2$', r'$0$', r'$2$', r'$4$'], fontsize=19, path_effects=stroke)
    ax.set_yticks([-2, -1, 0, 1, 2])
    ylabels = ax.set_yticklabels([r'$-2$', r'$-1$', r'$0$', r'$1$', r'$2$'], fontsize=19, path_effects=stroke)
    ylabels[0].set_verticalalignment('bottom')
    ylabels[-1].set_verticalalignment('top')
    ax.xaxis.set_minor_locator(MultipleLocator(0.5))
    ax.yaxis.set_minor_locator(MultipleLocator(0.1))
    ax.tick_params(axis='x', which='major', direction='in', top=True, length=4.5, width=1.1, pad=12)
    ax.tick_params(axis='x', which='minor', direction='in', top=True, length=2.2, width=1.1)
    ax.tick_params(axis='y', which='major', direction='in', right=True, length=8.6, width=1.1, pad=6)
    ax.tick_params(axis='y', which='minor', direction='in', right=True, length=5.6, width=1.1)
    for s in ax.spines.values():
        s.set_linewidth(1.5)
        s.set_zorder(10)
    ax.set_axisbelow(False)

    fig.text(475/W, 1-(top-25)/H, r'$g\ \ /\ \ (R_{\rm in}\Omega_{\rm in}{}^2)\ \ =\ \ %d$' % g,
             ha='center', va='center', fontsize=24, path_effects=stroke)
    fig.text(91/W, 1-(top+148)/H, r'$y\ \ /\ \ R_{\rm in}$', rotation=90, ha='center', va='center',
             fontsize=21, path_effects=[pe.withStroke(linewidth=1.0, foreground='black')])

fig.text(475/W, 1-1267/H, r'$x\ \ /\ \ R_{\rm in}$', ha='center', va='center', fontsize=21,
         path_effects=[pe.withStroke(linewidth=1.0, foreground='black')])

fig.savefig('out.png', dpi=100, facecolor='white')
